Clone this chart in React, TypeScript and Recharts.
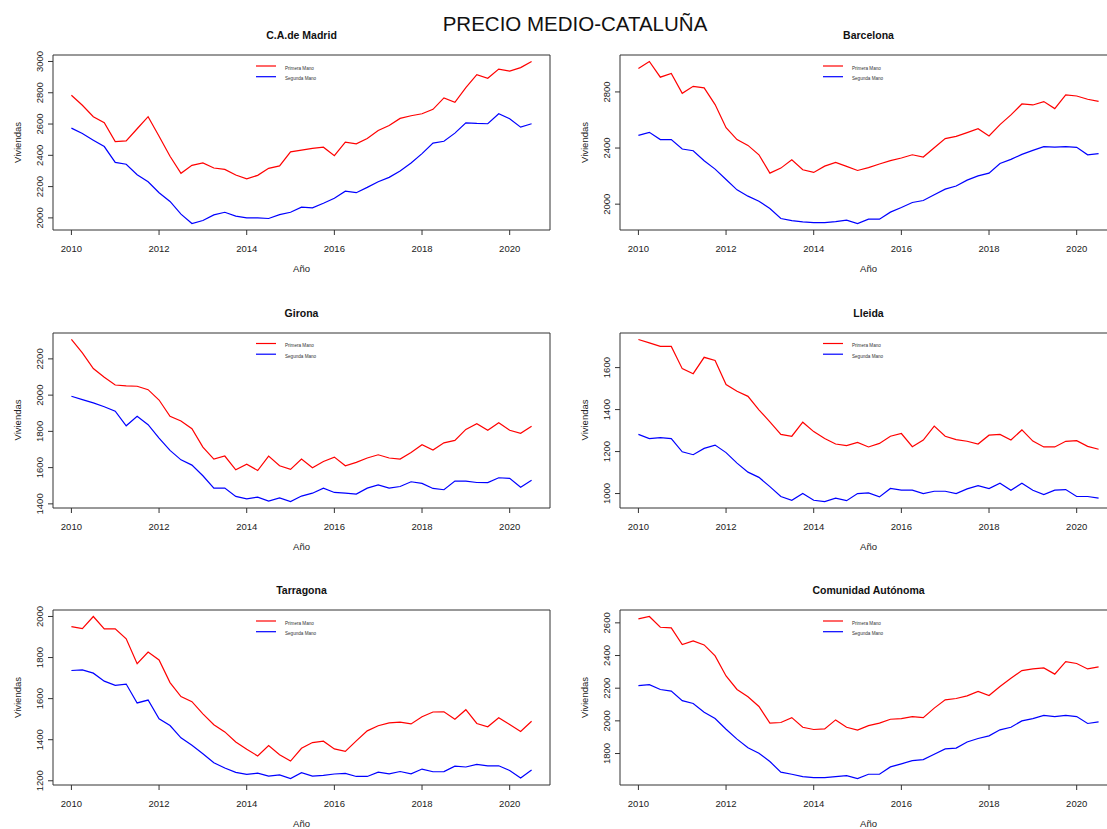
import { LineChart, Line, XAxis, YAxis, ReferenceArea } from 'recharts';

const FONT = '"Liberation Sans", Arial, Helvetica, sans-serif';

const periods = [
  2010, 2010.25, 2010.5, 2010.75, 2011, 2011.25, 2011.5, 2011.75, 2012, 2012.25, 2012.5,
  2012.75, 2013, 2013.25, 2013.5, 2013.75, 2014, 2014.25, 2014.5, 2014.75, 2015, 2015.25,
  2015.5, 2015.75, 2016, 2016.25, 2016.5, 2016.75, 2017, 2017.25, 2017.5, 2017.75, 2018,
  2018.25, 2018.5, 2018.75, 2019, 2019.25, 2019.5, 2019.75, 2020, 2020.25, 2020.5,
];
const yearTicks = [2010, 2012, 2014, 2016, 2018, 2020];

const madridPrimera = [2784, 2720, 2647, 2608, 2488, 2492, 2570, 2647, 2522, 2394, 2285, 2336, 2351, 2319, 2310, 2274, 2250, 2272, 2317, 2332, 2422, 2433, 2445, 2452, 2398, 2484, 2473, 2507, 2559, 2591, 2636, 2653, 2666, 2694, 2767, 2739, 2833, 2916, 2893, 2951, 2938, 2961, 3000];
const madridSegunda = [2574, 2540, 2497, 2456, 2355, 2343, 2276, 2231, 2161, 2105, 2024, 1964, 1983, 2019, 2036, 2011, 2000, 2000, 1996, 2021, 2036, 2069, 2064, 2094, 2126, 2171, 2161, 2195, 2231, 2259, 2300, 2351, 2411, 2478, 2490, 2542, 2608, 2604, 2602, 2666, 2634, 2580, 2602];

const barcelonaPrimera = [2967, 3017, 2905, 2931, 2790, 2840, 2829, 2710, 2545, 2460, 2419, 2352, 2221, 2257, 2317, 2245, 2226, 2271, 2298, 2269, 2240, 2260, 2286, 2310, 2329, 2352, 2336, 2402, 2467, 2483, 2510, 2538, 2486, 2567, 2636, 2714, 2707, 2731, 2681, 2779, 2771, 2748, 2733];
const barcelonaSegunda = [2490, 2512, 2460, 2460, 2393, 2381, 2310, 2250, 2176, 2102, 2057, 2021, 1969, 1898, 1883, 1874, 1869, 1869, 1876, 1886, 1862, 1893, 1893, 1943, 1976, 2012, 2026, 2067, 2107, 2129, 2171, 2202, 2221, 2290, 2319, 2355, 2383, 2410, 2407, 2410, 2405, 2352, 2360];

const gironaPrimera = [2307, 2233, 2147, 2099, 2056, 2051, 2049, 2030, 1973, 1883, 1857, 1815, 1713, 1647, 1664, 1588, 1619, 1584, 1664, 1610, 1590, 1647, 1599, 1634, 1658, 1610, 1629, 1653, 1671, 1653, 1647, 1684, 1726, 1697, 1737, 1750, 1811, 1842, 1806, 1848, 1806, 1789, 1828];
const gironaSegunda = [1994, 1975, 1957, 1936, 1911, 1831, 1883, 1837, 1763, 1695, 1643, 1614, 1555, 1487, 1487, 1441, 1428, 1437, 1415, 1433, 1413, 1443, 1459, 1487, 1463, 1459, 1454, 1487, 1505, 1487, 1496, 1522, 1513, 1485, 1478, 1526, 1526, 1518, 1517, 1544, 1541, 1492, 1531];

const lleidaPrimera = [1734, 1718, 1701, 1701, 1595, 1571, 1649, 1634, 1519, 1487, 1463, 1399, 1341, 1282, 1273, 1340, 1295, 1262, 1236, 1228, 1244, 1222, 1239, 1273, 1286, 1223, 1255, 1321, 1273, 1257, 1249, 1236, 1278, 1282, 1255, 1303, 1250, 1222, 1222, 1249, 1252, 1225, 1211];
const lleidaSegunda = [1282, 1262, 1266, 1262, 1199, 1185, 1215, 1231, 1195, 1145, 1102, 1077, 1033, 986, 968, 1000, 968, 962, 978, 966, 1000, 1003, 984, 1024, 1016, 1016, 1000, 1011, 1011, 1000, 1022, 1038, 1024, 1049, 1016, 1049, 1016, 995, 1016, 1019, 986, 986, 978];

const tarragonaPrimera = [1951, 1941, 2000, 1940, 1940, 1891, 1770, 1827, 1788, 1678, 1610, 1585, 1526, 1473, 1438, 1389, 1353, 1321, 1371, 1327, 1296, 1358, 1386, 1393, 1355, 1343, 1394, 1443, 1468, 1482, 1486, 1477, 1512, 1535, 1536, 1500, 1546, 1479, 1463, 1507, 1474, 1440, 1490];
const tarragonaSegunda = [1737, 1740, 1724, 1685, 1665, 1671, 1579, 1593, 1502, 1469, 1409, 1373, 1332, 1288, 1262, 1241, 1231, 1237, 1223, 1229, 1211, 1239, 1223, 1226, 1233, 1236, 1221, 1221, 1242, 1234, 1245, 1234, 1257, 1244, 1245, 1271, 1267, 1280, 1273, 1273, 1250, 1213, 1252];

const comunidadPrimera = [2624, 2639, 2573, 2569, 2467, 2490, 2465, 2398, 2275, 2192, 2147, 2088, 1986, 1990, 2020, 1961, 1947, 1951, 2006, 1961, 1943, 1971, 1986, 2010, 2014, 2026, 2020, 2078, 2129, 2137, 2153, 2180, 2155, 2210, 2261, 2308, 2318, 2324, 2286, 2363, 2351, 2318, 2331];
const comunidadSegunda = [2216, 2222, 2192, 2182, 2124, 2106, 2053, 2014, 1949, 1888, 1835, 1802, 1751, 1686, 1673, 1659, 1653, 1653, 1659, 1665, 1647, 1673, 1673, 1718, 1737, 1757, 1763, 1796, 1828, 1833, 1871, 1892, 1908, 1945, 1961, 2000, 2014, 2033, 2026, 2033, 2026, 1984, 1994];

const panels = [
  { title: 'C.A.de Madrid', primera: madridPrimera, segunda: madridSegunda, ticks: [2000, 2200, 2400, 2600, 2800, 3000] },
  { title: 'Barcelona', primera: barcelonaPrimera, segunda: barcelonaSegunda, ticks: [2000, 2400, 2800] },
  { title: 'Girona', primera: gironaPrimera, segunda: gironaSegunda, ticks: [1400, 1600, 1800, 2000, 2200] },
  { title: 'Lleida', primera: lleidaPrimera, segunda: lleidaSegunda, ticks: [1000, 1200, 1400, 1600] },
  { title: 'Tarragona', primera: tarragonaPrimera, segunda: tarragonaSegunda, ticks: [1200, 1400, 1600, 1800, 2000] },
  { title: 'Comunidad Autónoma', primera: comunidadPrimera, segunda: comunidadSegunda, ticks: [1800, 2000, 2200, 2400, 2600] },
];

// layout (px)
const COLS = [0, 567];
const ROWS = [0, 277.5, 555];
const CHART_W = 560;
const CHART_H = 270;
const PLOT_L = 53;
const PLOT_T = 55;
const PLOT_W = 497;
const PLOT_H = 175;

// R style axis range: data range plus 4% on each side
const pad = (lo: number, hi: number) => {
  const d = (hi - lo) * 0.04;
  return [lo - d, hi + d];
};
const xDomain = pad(periods[0], periods[periods.length - 1]);

const YTick = (props: any) => {
  const { x, y, payload } = props;
  return (
    <text
      x={x}
      y={y}
      transform={`rotate(-90 ${x} ${y})`}
      textAnchor="middle"
      fontFamily={FONT}
      fontSize={9.5}
      fill="#222"
    >
      {payload.value}
    </text>
  );
};

function Panel({ p }: { p: any }) {
  const rows = periods.map((t, i) => ({ t, primera: p.primera[i], segunda: p.segunda[i] }));
  const all = [...p.primera, ...p.segunda];
  const yDomain = pad(Math.min(...all), Math.max(...all));
  return (
    <LineChart width={CHART_W} height={CHART_H} data={rows} margin={{ top: PLOT_T, right: CHART_W - PLOT_L - PLOT_W, bottom: 0, left: 0 }}>
      <ReferenceArea
        x1={xDomain[0]}
        x2={xDomain[1]}
        y1={yDomain[0]}
        y2={yDomain[1]}
        fill="none"
        fillOpacity={0}
        stroke="#333"
        strokeWidth={1}
        ifOverflow="visible"
      />
      <XAxis
        dataKey="t"
        type="number"
        domain={xDomain}
        allowDataOverflow
        ticks={yearTicks}
        height={CHART_H - PLOT_T - PLOT_H}
        axisLine={false}
        tickSize={5}
        tickMargin={10}
        tickLine={{ stroke: '#333' }}
        tick={{ fontFamily: FONT, fontSize: 9.5, fill: '#222' }}
      />
      <YAxis
        type="number"
        domain={yDomain}
        allowDataOverflow
        ticks={p.ticks}
        width={PLOT_L}
        axisLine={false}
        tickSize={5}
        tickMargin={5}
        tickLine={{ stroke: '#333' }}
        tick={<YTick />}
      />
      <Line dataKey="primera" stroke="#ff0000" strokeWidth={1.2} dot={false} isAnimationActive={false} />
      <Line dataKey="segunda" stroke="#0000ff" strokeWidth={1.2} dot={false} isAnimationActive={false} />
    </LineChart>
  );
}

export default function App() {
  return (
    <div style={{ position: 'absolute', left: 0, top: 0, width: 1107, height: 829, overflow: 'hidden', background: '#fff' }}>
      {panels.map((p, i) => (
        <div key={p.title} style={{ position: 'absolute', left: COLS[i % 2], top: ROWS[Math.floor(i / 2)] }}>
          <Panel p={p} />
        </div>
      ))}
      <svg width={1107} height={829} style={{ position: 'absolute', left: 0, top: 0, pointerEvents: 'none' }}>
        <text x={575} y={30.5} textAnchor="middle" fontFamily={FONT} fontSize={20.5} fill="#111">
          PRECIO MEDIO-CATALUÑA
        </text>
        {panels.map((p, i) => {
          const bx = COLS[i % 2] + PLOT_L;
          const by = ROWS[Math.floor(i / 2)] + PLOT_T;
          const cx = bx + PLOT_W / 2;
          const vy = by + PLOT_H / 2;
          const vx = COLS[i % 2] + 21;
          return (
            <g key={p.title} fontFamily={FONT}>
              <text x={cx} y={by - 16} textAnchor="middle" fontSize={10.5} fontWeight="bold" fill="#111">
                {p.title}
              </text>
              <text x={cx} y={by + 217} textAnchor="middle" fontSize={9.5} fill="#222">
                Año
              </text>
              <text x={vx} y={vy} transform={`rotate(-90 ${vx} ${vy})`} textAnchor="middle" fontSize={9.5} fill="#222">
                Viviendas
              </text>
              <line x1={bx + 203} x2={bx + 223} y1={by + 11} y2={by + 11} stroke="#ff0000" strokeWidth={1.2} />
              <line x1={bx + 203} x2={bx + 223} y1={by + 21.7} y2={by + 21.7} stroke="#0000ff" strokeWidth={1.2} />
              <text x={bx + 232} y={by + 14.6} fontSize={4.6} fill="#333">Primera Mano</text>
              <text x={bx + 232} y={by + 25} fontSize={4.6} fill="#333">Segunda Mano</text>
            </g>
          );
        })}
      </svg>
    </div>
  );
}
